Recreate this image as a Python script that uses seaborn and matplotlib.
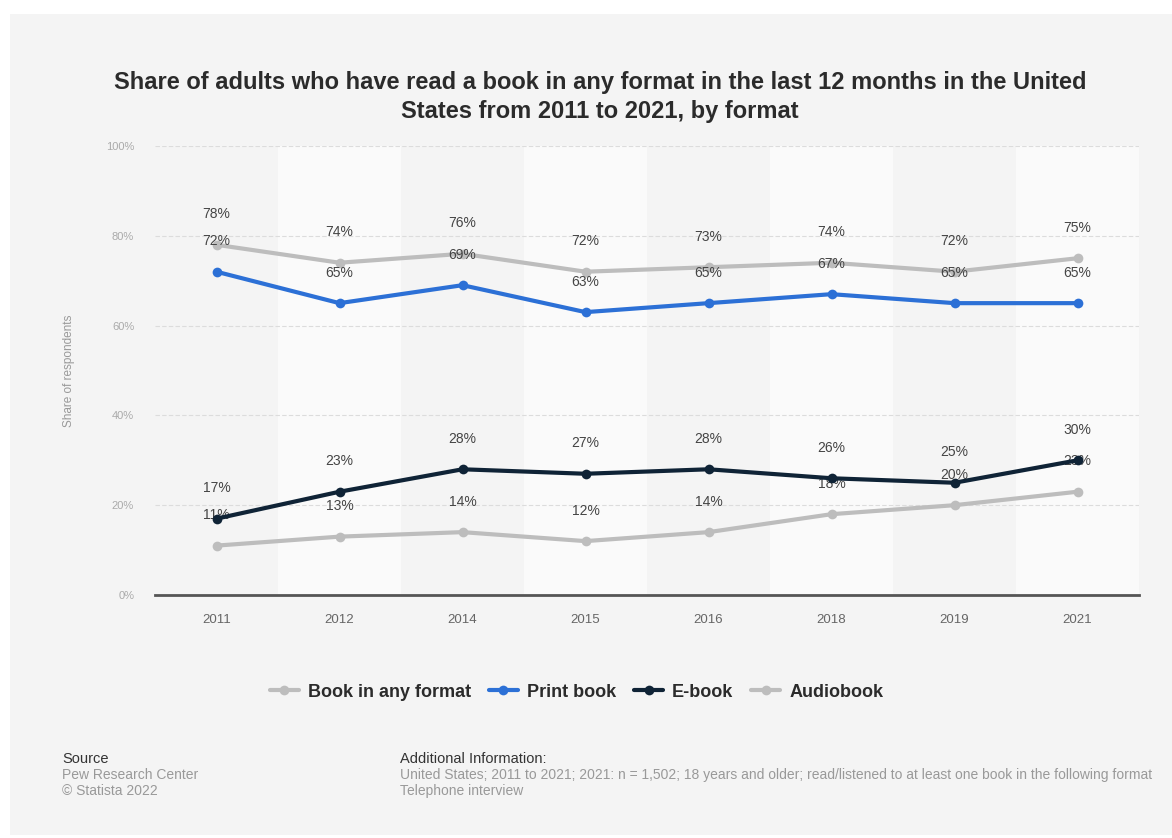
import numpy as np
import pandas as pd
import matplotlib
matplotlib.use("Agg")
import matplotlib.pyplot as plt
from matplotlib.patches import Rectangle
import seaborn as sns

# data
years = ["2011", "2012", "2014", "2015", "2016", "2018", "2019", "2021"]
book_any = [78, 74, 76, 72, 73, 74, 72, 75]
print_book = [72, 65, 69, 63, 65, 67, 65, 65]
e_book = [17, 23, 28, 27, 28, 26, 25, 30]
audiobook = [11, 13, 14, 12, 14, 18, 20, 23]

series_names = ["Book in any format", "Print book", "E-book", "Audiobook"]
series_values = [book_any, print_book, e_book, audiobook]
colors = ["#bdbdbd", "#2c70d6", "#0f2336", "#bdbdbd"]

# long format table for seaborn
rows = []
for name, vals in zip(series_names, series_values):
    for i, (yr, v) in enumerate(zip(years, vals)):
        rows.append({"pos": i, "year": yr, "value": v, "format": name})
df = pd.DataFrame(rows)

sns.set_style("white")
plt.rcParams["font.family"] = ["Liberation Sans", "DejaVu Sans"]

fig = plt.figure(figsize=(11.72, 8.38), dpi=100, facecolor="white")
# grey panel behind everything
fig.patches.append(Rectangle((10 / 1172, 0.004), 1.0, 1 - 14 / 838 - 0.004,
                             transform=fig.transFigure, facecolor="#f4f4f4",
                             edgecolor="none", zorder=-10))

ax = fig.add_axes([155 / 1172, 243 / 838, 984 / 1172, 449 / 838])
ax.set_facecolor("#f4f4f4")

# alternating column bands
for i in range(len(years)):
    if i % 2 == 1:
        ax.axvspan(i - 0.5, i + 0.5, color="#fafafa", zorder=0, lw=0)

sns.lineplot(data=df, x="pos", y="value", hue="format", hue_order=series_names,
             palette=colors, marker="o", markersize=7, linewidth=3,
             markeredgewidth=0, ax=ax, legend=False, zorder=3)
# e-book line sits over the audiobook labels in the original
for ln in ax.lines:
    if ln.get_label() == "E-book" or tuple(np.round(ln.get_color() if not isinstance(ln.get_color(), str) else matplotlib.colors.to_rgb(ln.get_color()), 3)) == tuple(np.round(matplotlib.colors.to_rgb("#0f2336"), 3)):
        ln.set_zorder(6)

# value labels above each point
for name, vals in zip(series_names, series_values):
    for i, v in enumerate(vals):
        ax.annotate(f"{v}%", (i, v), xytext=(0, 22), textcoords="offset points",
                    ha="center", va="center", fontsize=10, color="#444444", zorder=5)

ax.set_xlim(-0.5, len(years) - 0.5)
ax.set_ylim(0, 100)
ax.set_xticks(range(len(years)))
ax.set_xticklabels(years)
ax.set_yticks([0, 20, 40, 60, 80, 100])
ax.set_yticklabels(["0%", "20%", "40%", "60%", "80%", "100%"])
ax.tick_params(axis="x", length=0, pad=14, labelsize=9.5, labelcolor="#666666")
ax.tick_params(axis="y", length=0, pad=15, labelsize=8, labelcolor="#aaaaaa")
ax.grid(axis="y", color="#dcdcdc", linewidth=0.8, linestyle=(0, (4, 2)))
ax.set_axisbelow(True)
for s in ["top", "right", "left"]:
    ax.spines[s].set_visible(False)
ax.spines["bottom"].set_color("#555555")
ax.spines["bottom"].set_linewidth(2)
ax.set_xlabel("")
ax.set_ylabel("Share of respondents", fontsize=8.5, color="#999999", labelpad=22)

fig.text(0.512, 1 - 97 / 838,
         "Share of adults who have read a book in any format in the last 12 months in the United\n"
         "States from 2011 to 2021, by format",
         ha="center", va="center", fontsize=17, fontweight="bold", color="#2b2b2b",
         linespacing=1.3)

# legend
handles = [plt.Line2D([], [], color=c, marker="o", markersize=7, linewidth=3,
                      markeredgewidth=0) for c in colors]
fig.legend(handles, series_names, loc="center", bbox_to_anchor=(0.492, 1 - 692 / 838),
           ncol=4, frameon=False, handlelength=1.6, handletextpad=0.5, columnspacing=1.0,
           prop={"weight": "bold", "size": 13}, labelcolor="#2b2b2b")

# footer
fig.text(62 / 1172, 1 - 759 / 838, "Source", fontsize=10.5, color="#333333", va="center")
fig.text(62 / 1172, 1 - 775 / 838, "Pew Research Center", fontsize=10, color="#999999", va="center")
fig.text(62 / 1172, 1 - 791 / 838, "© Statista 2022", fontsize=10, color="#999999", va="center")
fig.text(400 / 1172, 1 - 759 / 838, "Additional Information:", fontsize=10.5, color="#333333", va="center")
fig.text(400 / 1172, 1 - 775 / 838,
         "United States; 2011 to 2021; 2021: n = 1,502; 18 years and older; read/listened to at least one book in the following format",
         fontsize=10, color="#999999", va="center")
fig.text(400 / 1172, 1 - 791 / 838, "Telephone interview", fontsize=10, color="#999999", va="center")

fig.savefig("out.png", dpi=100, facecolor=fig.get_facecolor())
